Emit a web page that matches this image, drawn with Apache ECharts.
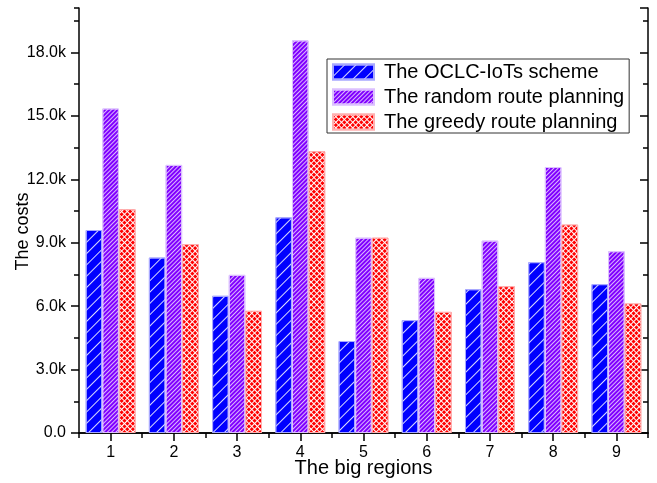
<!DOCTYPE html>
<html>
<head>
<meta charset="utf-8">
<script src="https://cdn.jsdelivr.net/npm/echarts@6/dist/echarts.min.js"></script>
<style>html,body{margin:0;padding:0;background:#fff;}#c{width:657px;height:483px;}</style>
</head>
<body>
<div id="c"></div>
<script>
var categories = ['1','2','3','4','5','6','7','8','9'];
var oclcIoTs = [9600, 8300, 6490, 10200, 4350, 5340, 6800, 8080, 7040];
var randomRoute = [15350, 12680, 7480, 18570, 9240, 7340, 9100, 12580, 8600];
var greedyRoute = [10590, 8930, 5780, 13320, 9240, 5730, 6940, 9860, 6130];
var seriesNames = ['The OCLC-IoTs scheme', 'The random route planning', 'The greedy route planning'];

var FONT = '"Liberation Sans", Arial, sans-serif';
var chart = echarts.init(document.getElementById('c'), null, {renderer: 'canvas'});

function yFmt(v) { return v === 0 ? '0.0' : (v / 1000).toFixed(1) + 'k'; }

var lineStyle = {color: '#000', width: 1.5};
var option = {
  animation: false,
  backgroundColor: '#fff',
  aria: {enabled: true, decal: {show: true}},
  grid: {left: 79, right: 9, top: 8, bottom: 50, containLabel: false, outerBoundsMode: 'none'},
  legend: {
    orient: 'vertical', left: 327, top: 59,
    padding: [3, 5, 1, 5], itemGap: 5,
    itemWidth: 41, itemHeight: 15,
    borderColor: '#333', borderWidth: 1,
    icon: 'rect',
    textStyle: {fontFamily: FONT, fontSize: 20, color: '#000', padding: [0, 0, 0, 5]},
    data: seriesNames
  },
  xAxis: [
    {type: 'category', data: categories, position: 'bottom',
     axisLine: {show: true, lineStyle: lineStyle},
     axisTick: {show: true, alignWithLabel: true, inside: false, length: 8, lineStyle: lineStyle},
     axisLabel: {fontFamily: FONT, fontSize: 16, color: '#000', margin: 12},
     name: 'The big regions', nameLocation: 'middle', nameGap: 25, nameMoveOverlap: false,
     nameTextStyle: {fontFamily: FONT, fontSize: 20, color: '#000'},
     splitLine: {show: false}},
    {type: 'category', data: categories, position: 'bottom',
     axisLine: {show: false}, axisLabel: {show: false},
     axisTick: {show: true, alignWithLabel: false, inside: false, length: 5, lineStyle: lineStyle},
     splitLine: {show: false}},
    {type: 'category', data: categories, position: 'top',
     axisLine: {show: true, lineStyle: lineStyle}, axisLabel: {show: false},
     axisTick: {show: true, alignWithLabel: true, inside: true, length: 8, lineStyle: lineStyle},
     splitLine: {show: false}},
    {type: 'category', data: categories, position: 'top',
     axisLine: {show: false}, axisLabel: {show: false},
     axisTick: {show: true, alignWithLabel: false, inside: true, length: 5, lineStyle: lineStyle},
     splitLine: {show: false}}
  ],
  yAxis: [
    {type: 'value', min: 0, max: 20100, interval: 3000, position: 'left',
     axisLine: {show: true, lineStyle: lineStyle},
     axisTick: {show: true, inside: false, length: 8, lineStyle: lineStyle},
     axisLabel: {fontFamily: FONT, fontSize: 16, color: '#000', margin: 13, formatter: yFmt, showMaxLabel: false},
     name: 'The costs', nameLocation: 'middle', nameGap: 47, nameRotate: 90, nameMoveOverlap: false,
     nameTextStyle: {fontFamily: FONT, fontSize: 18, color: '#000', padding: [0, 22, 0, 0]},
     splitLine: {show: false}},
    {type: 'value', min: 0, max: 20100, interval: 1500, position: 'left',
     axisLine: {show: false}, axisLabel: {show: false},
     axisTick: {show: true, inside: false, length: 5, lineStyle: lineStyle},
     splitLine: {show: false}},
    {type: 'value', min: 0, max: 20100, interval: 3000, position: 'right',
     axisLine: {show: true, lineStyle: lineStyle}, axisLabel: {show: false},
     axisTick: {show: true, inside: true, length: 8, lineStyle: lineStyle},
     splitLine: {show: false}},
    {type: 'value', min: 0, max: 20100, interval: 1500, position: 'right',
     axisLine: {show: false}, axisLabel: {show: false},
     axisTick: {show: true, inside: true, length: 5, lineStyle: lineStyle},
     splitLine: {show: false}}
  ],
  series: [
    {name: seriesNames[0], type: 'bar', data: oclcIoTs, xAxisIndex: 0, yAxisIndex: 0,
     barGap: '0%', barCategoryGap: '21%',
     itemStyle: {color: '#0000ff', borderColor: '#a8a8ff', borderWidth: 1,
       decal: {symbol: 'rect', color: 'rgba(255,255,255,0.85)', dashArrayX: [1, 0], dashArrayY: [1, 7], rotation: -Math.PI / 4}}},
    {name: seriesNames[1], type: 'bar', data: randomRoute, xAxisIndex: 0, yAxisIndex: 0,
     barGap: '0%', barCategoryGap: '21%',
     itemStyle: {color: '#8000ff', borderColor: '#dcc0ff', borderWidth: 1,
       decal: {symbol: 'rect', color: 'rgba(255,255,255,0.9)', dashArrayX: [1, 0], dashArrayY: [1, 2], rotation: -Math.PI / 4}}},
    {name: seriesNames[2], type: 'bar', data: greedyRoute, xAxisIndex: 0, yAxisIndex: 0,
     barGap: '0%', barCategoryGap: '21%',
     itemStyle: {color: '#ff0000', borderColor: '#ffb0b0', borderWidth: 1,
       decal: {symbol: 'rect', color: '#ff0000', backgroundColor: '#ffffff', dashArrayX: [2.6, 1], dashArrayY: [2.6, 1], rotation: Math.PI / 4}}}
  ]
};
chart.setOption(option);
</script>
</body>
</html>
